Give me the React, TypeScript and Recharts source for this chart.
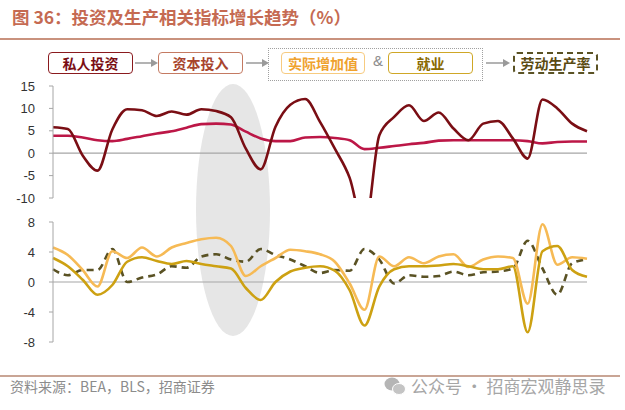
import React from 'react';
import { LineChart, Line, XAxis, YAxis, ReferenceLine } from 'recharts';

// 1988-2024, annual growth (%)
const years = [
  1988, 1989, 1990, 1991, 1992, 1993, 1994, 1995, 1996, 1997, 1998, 1999, 2000,
  2001, 2002, 2003, 2004, 2005, 2006, 2007, 2008, 2009, 2010, 2011, 2012, 2013,
  2014, 2015, 2016, 2017, 2018, 2019, 2020, 2021, 2022, 2023, 2024,
];
const privateInvestment = [
  5.8, 5.4, -0.5, -3.9, 5.3, 9.8, 9.6, 8.3, 9.3, 8.6, 9.8, 9.4, 8.0,
  1.0, -3.6, 5.9, 10.8, 12.1, 7.0, 1.0, -5.5, -17, 4.0, 8.1, 10.7, 7.2,
  9.1, 5.5, 2.9, 6.6, 7.2, 3.3, -1.2, 12.0, 10.0, 6.6, 4.9,
];
const capitalInput = [
  3.9, 3.9, 3.5, 2.9, 2.7, 3.2, 3.8, 4.4, 4.9, 5.7, 6.5, 6.6, 6.4,
  4.8, 3.3, 2.7, 2.7, 3.5, 3.6, 3.4, 2.9, 0.9, 1.2, 1.6, 2.0, 2.3,
  2.8, 2.9, 2.9, 2.9, 2.9, 2.9, 2.7, 2.2, 2.5, 2.6, 2.6,
];
const realValueAdded = [
  4.6, 3.6, 1.6, -0.6, 4.1, 3.2, 4.6, 3.4, 4.6, 5.2, 5.7, 5.9, 4.8,
  0.8, 2.1, 3.2, 4.3, 4.1, 3.7, 2.7, -0.2, -3.7, 3.4, 2.1, 3.3, 2.5,
  3.4, 3.7, 2.0, 3.0, 3.4, 3.2, -2.9, 7.7, 2.3, 3.3, 3.1,
];
const employment = [
  3.2, 2.1, 0.3, -1.7, -0.4, 2.7, 3.3, 2.8, 2.4, 2.8, 2.4, 2.1, 1.8,
  -0.8, -2.4, 0.0, 1.4, 1.9, 2.1, 1.5, -1.1, -5.8, -0.6, 1.7, 2.1, 2.1,
  2.2, 2.4, 2.1, 1.7, 1.7, 2.1, -6.7, 4.1, 4.8, 1.6, 0.7,
];
const laborProductivity = [
  1.7, 0.9, 1.6, 1.6, 4.4, 0.0, 0.6, 1.0, 2.1, 1.9, 3.4, 3.7, 3.0,
  2.7, 4.4, 3.6, 3.0, 2.1, 1.2, 1.6, 1.5, 4.4, 3.0, -0.2, 0.9, 0.7,
  0.8, 1.4, 0.9, 1.3, 1.4, 1.8, 5.5, 1.8, -1.7, 2.5, 3.0,
];
const xTicks = [
  1988, 1990, 1992, 1994, 1996, 1998, 2000, 2002, 2004, 2006, 2008, 2010,
  2012, 2014, 2016, 2018, 2020, 2022, 2024,
];
const topTicks = [-10, -5, 0, 5, 10, 15];
const bottomTicks = [-8, -4, 0, 4, 8];

const data = years.map((year, i) => ({
  year,
  privateInvestment: privateInvestment[i],
  capitalInput: capitalInput[i],
  realValueAdded: realValueAdded[i],
  employment: employment[i],
  laborProductivity: laborProductivity[i],
}));

// layout
const W = 625;
const H = 410;
const PLOT_LEFT = 53;
const PLOT_RIGHT = 587;
const TOP_Y0 = 86;
const TOP_Y1 = 198;
const BOT_Y0 = 222;
const BOT_Y1 = 342;
const TOP_ZERO = TOP_Y0 + (TOP_Y1 - TOP_Y0) * (15 / 25);
const BOT_ZERO = BOT_Y0 + (BOT_Y1 - BOT_Y0) * 0.5;

const AXIS = '#A6A6A6';
const NUM_FONT = "'Liberation Sans Narrow', 'Liberation Sans', Arial, sans-serif";
const CJK_FONT = "'Noto Sans CJK SC', sans-serif";

const C_PRIVATE = '#7A0E14';
const C_CAPITAL = '#BC1747';
const C_VALUE = '#F6BA55';
const C_EMPLOY = '#CDA112';
const C_PROD = '#5A5224';

const yTick = { fill: '#333', fontSize: 13, fontFamily: NUM_FONT };

// tick marks sitting on the zero line
const TopTick = (props: any) => (
  <line x1={props.x} x2={props.x} y1={TOP_ZERO} y2={TOP_ZERO + 4} stroke={AXIS} />
);

const BottomTick = (props: any) => {
  const yr = String(props.payload.value).slice(2);
  return (
    <g>
      <line x1={props.x} x2={props.x} y1={BOT_ZERO} y2={BOT_ZERO + 4} stroke={AXIS} />
      <text
        x={props.x}
        y={BOT_Y1 + 24}
        textAnchor="middle"
        fill="#333"
        fontSize={13}
        fontFamily={NUM_FONT}
      >
        {yr}
      </text>
    </g>
  );
};

const Box = ({ left, width, label, border, color, dashed }: any) => (
  <div
    style={{
      position: 'absolute',
      left,
      top: 52,
      width,
      height: 22,
      boxSizing: 'border-box',
      border: `${dashed ? 2 : 1.5}px ${dashed ? 'dashed' : 'solid'} ${border}`,
      borderRadius: 4,
      color,
      fontWeight: 700,
      fontSize: 14,
      display: 'flex',
      alignItems: 'center',
      justifyContent: 'center',
      lineHeight: 1,
    }}
  >
    {label}
  </div>
);

const Arrow = ({ left, width }: any) => (
  <svg style={{ position: 'absolute', left, top: 57 }} width={width} height={12}>
    <line x1={1} x2={width - 6} y1={6} y2={6} stroke="#9A9A9A" strokeWidth={1.5} />
    <polygon points={`${width - 7},2 ${width},6 ${width - 7},10`} fill="#9A9A9A" />
  </svg>
);

const App = () => {
  return (
    <div
      style={{
        position: 'absolute',
        left: 0,
        top: 0,
        width: W,
        height: H,
        background: '#fff',
        fontFamily: CJK_FONT,
        overflow: 'hidden',
      }}
    >
      {/* title */}
      <div
        style={{
          position: 'absolute',
          left: 12,
          top: 4,
          fontSize: 17.5,
          fontWeight: 700,
          color: '#C56A52',
          whiteSpace: 'nowrap',
        }}
      >
        图 36：投资及生产相关指标增长趋势（%）
      </div>
      <div style={{ position: 'absolute', left: 0, top: 38, width: 620, height: 1.5, background: '#C9927E' }} />

      {/* flow legend */}
      <Box left={48} width={85} label="私人投资" border="#8A1A1E" color="#7A0E14" />
      <Arrow left={134} width={24} />
      <Box left={158} width={85} label="资本投入" border="#C47A62" color="#A8452E" />
      <Arrow left={245} width={24} />
      <div
        style={{
          position: 'absolute',
          left: 268,
          top: 48,
          width: 215,
          height: 33,
          boxSizing: 'border-box',
          border: '1.5px dotted #A0A0A0',
        }}
      />
      <Box left={281} width={84} label="实际增加值" border="#F7CB80" color="#EFA22E" />
      <div style={{ position: 'absolute', left: 370, top: 52, width: 16, fontSize: 15, color: '#8C8C8C', textAlign: 'center', fontFamily: NUM_FONT }}>
        &amp;
      </div>
      <Box left={388} width={85} label="就业" border="#CFA726" color="#8A6A00" />
      <Arrow left={485} width={25} />
      <Box left={513} width={85} label="劳动生产率" border="#5A5224" color="#5A4A12" dashed />

      {/* 2000 highlight */}
      <div
        style={{
          position: 'absolute',
          left: 233 - 37,
          top: 84,
          width: 74,
          height: 252,
          borderRadius: '50%',
          background: '#E6E6E6',
        }}
      />

      {/* top panel: investment */}
      <div style={{ position: 'absolute', left: 0, top: 0 }}>
        <LineChart
          width={W}
          height={H}
          data={data}
          margin={{ top: TOP_Y0, right: W - PLOT_RIGHT, left: 0, bottom: H - TOP_Y1 }}
        >
          <XAxis
            dataKey="year"
            type="number"
            domain={[1988, 2024]}
            ticks={xTicks}
            interval={0}
            height={0}
            axisLine={false}
            tickLine={false}
            tick={<TopTick />}
          />
          <YAxis
            domain={[-10, 15]}
            ticks={topTicks}
            interval={0}
            allowDataOverflow
            width={PLOT_LEFT}
            tickSize={4}
            tickMargin={14}
            axisLine={{ stroke: AXIS }}
            tickLine={{ stroke: AXIS }}
            tick={yTick}
          />
          <ReferenceLine y={0} stroke={AXIS} strokeWidth={1.2} />
          <Line
            type="monotone"
            dataKey="capitalInput"
            stroke={C_CAPITAL}
            strokeWidth={2.6}
            dot={false}
            isAnimationActive={false}
          />
          <Line
            type="monotone"
            dataKey="privateInvestment"
            stroke={C_PRIVATE}
            strokeWidth={2.6}
            dot={false}
            isAnimationActive={false}
          />
        </LineChart>
      </div>

      {/* bottom panel: output, employment, productivity */}
      <div style={{ position: 'absolute', left: 0, top: 0 }}>
        <LineChart
          width={W}
          height={H}
          data={data}
          margin={{ top: BOT_Y0, right: W - PLOT_RIGHT, left: 0, bottom: H - BOT_Y1 }}
        >
          <XAxis
            dataKey="year"
            type="number"
            domain={[1988, 2024]}
            ticks={xTicks}
            interval={0}
            height={0}
            axisLine={false}
            tickLine={false}
            tick={<BottomTick />}
          />
          <YAxis
            domain={[-8, 8]}
            ticks={bottomTicks}
            interval={0}
            allowDataOverflow
            width={PLOT_LEFT}
            tickSize={4}
            tickMargin={14}
            axisLine={{ stroke: AXIS }}
            tickLine={{ stroke: AXIS }}
            tick={yTick}
          />
          <ReferenceLine y={0} stroke={AXIS} strokeWidth={1.2} />
          <Line
            type="monotone"
            dataKey="laborProductivity"
            stroke={C_PROD}
            strokeWidth={2.6}
            strokeDasharray="7 5"
            dot={false}
            isAnimationActive={false}
          />
          <Line
            type="monotone"
            dataKey="realValueAdded"
            stroke={C_VALUE}
            strokeWidth={2.6}
            dot={false}
            isAnimationActive={false}
          />
          <Line
            type="monotone"
            dataKey="employment"
            stroke={C_EMPLOY}
            strokeWidth={2.6}
            dot={false}
            isAnimationActive={false}
          />
        </LineChart>
      </div>

      {/* footer */}
      <div style={{ position: 'absolute', left: 0, top: 375, width: 620, height: 1.5, background: '#C9A595' }} />
      <div style={{ position: 'absolute', left: 10, top: 376, fontSize: 14, color: '#8C8C8C', whiteSpace: 'nowrap' }}>
        资料来源：BEA，BLS，招商证券
      </div>
      <div
        style={{
          position: 'absolute',
          left: 384,
          top: 373,
          fontSize: 17,
          color: '#A6A6A6',
          whiteSpace: 'nowrap',
          display: 'flex',
          alignItems: 'center',
        }}
      >
        <svg width={22} height={20} style={{ marginRight: 5 }}>
          <ellipse cx={8} cy={8} rx={7.5} ry={6.5} fill="#B5B5B5" />
          <ellipse cx={15} cy={13} rx={6.5} ry={5.5} fill="#C4C4C4" stroke="#fff" strokeWidth={1} />
        </svg>
        公众号 · 招商宏观静思录
      </div>
    </div>
  );
};

export default App;
